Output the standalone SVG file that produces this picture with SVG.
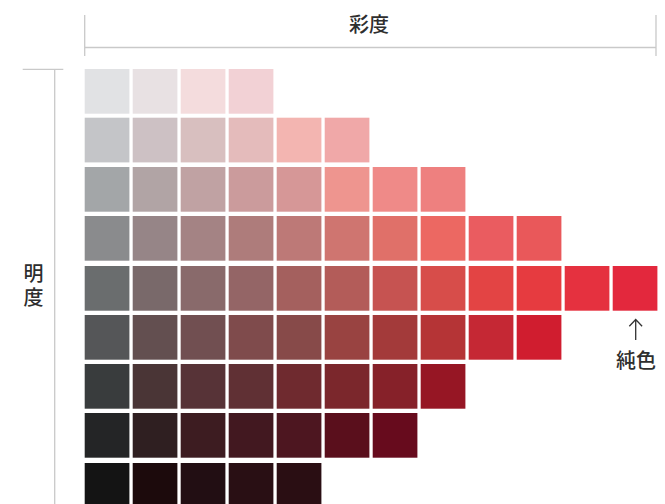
<svg xmlns="http://www.w3.org/2000/svg" width="665" height="504" viewBox="0 0 665 504">
<style>
  .ln{stroke:#c9c9c9;stroke-width:1.3;fill:none}
  .lbl{font-family:"Noto Sans CJK JP","Noto Sans CJK SC",sans-serif;font-size:20px;font-weight:500;fill:#2e2e2e;text-anchor:middle}
  .vt{writing-mode:vertical-rl;text-anchor:start;letter-spacing:3.5px}
  rect{width:44.7px;height:44.7px}
  .ar{stroke:#333333;stroke-width:1.3;fill:none}
</style>
<rect width="665" height="504" x="0" y="0" fill="#ffffff" style="width:665px;height:504px"/>
<g id="axes">
  <path class="ln" d="M84.7,15V56M84.7,47.5H656M656,15V56"/>
  <path class="ln" d="M22.7,69.3H63.3M54.7,69.3V504"/>
</g>
<g id="label-saido"><text class="lbl" x="369" y="31.5">彩度</text></g>
<g id="label-meido">
  <text class="lbl vt" x="33.5" y="263.5">明度</text>
</g>
<g id="row1">
  <rect x="84.7" y="69" fill="#e1e2e4"/>
  <rect x="132.7" y="69" fill="#e8e1e3"/>
  <rect x="180.7" y="69" fill="#f4dcdd"/>
  <rect x="228.7" y="69" fill="#f2d1d5"/>
</g>
<g id="row2">
  <rect x="84.7" y="117.7" fill="#c4c5c8"/>
  <rect x="132.7" y="117.7" fill="#cdc1c4"/>
  <rect x="180.7" y="117.7" fill="#d8bfbf"/>
  <rect x="228.7" y="117.7" fill="#e4bbbb"/>
  <rect x="276.7" y="117.7" fill="#f3b5b1"/>
  <rect x="324.7" y="117.7" fill="#f0a8a8"/>
</g>
<g id="row3">
  <rect x="84.7" y="167" fill="#a3a6a8"/>
  <rect x="132.7" y="167" fill="#b1a4a5"/>
  <rect x="180.7" y="167" fill="#c0a2a3"/>
  <rect x="228.7" y="167" fill="#cb9b9c"/>
  <rect x="276.7" y="167" fill="#d69797"/>
  <rect x="324.7" y="167" fill="#ee958f"/>
  <rect x="372.7" y="167" fill="#ef8a88"/>
  <rect x="420.7" y="167" fill="#ee807f"/>
</g>
<g id="row4">
  <rect x="84.7" y="216" fill="#8a8b8d"/>
  <rect x="132.7" y="216" fill="#968587"/>
  <rect x="180.7" y="216" fill="#a48384"/>
  <rect x="228.7" y="216" fill="#ae7c7b"/>
  <rect x="276.7" y="216" fill="#bd7977"/>
  <rect x="324.7" y="216" fill="#cf7570"/>
  <rect x="372.7" y="216" fill="#e07069"/>
  <rect x="420.7" y="216" fill="#ec6862"/>
  <rect x="468.7" y="216" fill="#ea5c60"/>
  <rect x="516.7" y="216" fill="#e9585a"/>
</g>
<g id="row5">
  <rect x="84.7" y="266" fill="#6a6d6e"/>
  <rect x="132.7" y="266" fill="#79696a"/>
  <rect x="180.7" y="266" fill="#896a6b"/>
  <rect x="228.7" y="266" fill="#946566"/>
  <rect x="276.7" y="266" fill="#a4605e"/>
  <rect x="324.7" y="266" fill="#b35c59"/>
  <rect x="372.7" y="266" fill="#c65351"/>
  <rect x="420.7" y="266" fill="#d74d4a"/>
  <rect x="468.7" y="266" fill="#e34444"/>
  <rect x="516.7" y="266" fill="#e63b40"/>
  <rect x="564.7" y="266" fill="#e5313f"/>
  <rect x="612.7" y="266" fill="#e3283d"/>
</g>
<g id="row6">
  <rect x="84.7" y="315" fill="#555658"/>
  <rect x="132.7" y="315" fill="#634f50"/>
  <rect x="180.7" y="315" fill="#714f51"/>
  <rect x="228.7" y="315" fill="#7f4b4c"/>
  <rect x="276.7" y="315" fill="#874a49"/>
  <rect x="324.7" y="315" fill="#994341"/>
  <rect x="372.7" y="315" fill="#a33a3a"/>
  <rect x="420.7" y="315" fill="#b53436"/>
  <rect x="468.7" y="315" fill="#c52834"/>
  <rect x="516.7" y="315" fill="#d01d2f"/>
</g>
<g id="row7">
  <rect x="84.7" y="364" fill="#393c3d"/>
  <rect x="132.7" y="364" fill="#4a3536"/>
  <rect x="180.7" y="364" fill="#573337"/>
  <rect x="228.7" y="364" fill="#603034"/>
  <rect x="276.7" y="364" fill="#6f2a2f"/>
  <rect x="324.7" y="364" fill="#7b272c"/>
  <rect x="372.7" y="364" fill="#862129"/>
  <rect x="420.7" y="364" fill="#961624"/>
</g>
<g id="row8">
  <rect x="84.7" y="413" fill="#242526"/>
  <rect x="132.7" y="413" fill="#2f1f21"/>
  <rect x="180.7" y="413" fill="#3d1c21"/>
  <rect x="228.7" y="413" fill="#421820"/>
  <rect x="276.7" y="413" fill="#4d1620"/>
  <rect x="324.7" y="413" fill="#5a0f1c"/>
  <rect x="372.7" y="413" fill="#670b1d"/>
</g>
<g id="row9">
  <rect x="84.7" y="463" fill="#141414"/>
  <rect x="132.7" y="463" fill="#1c0a0c"/>
  <rect x="180.7" y="463" fill="#220e13"/>
  <rect x="228.7" y="463" fill="#290f14"/>
  <rect x="276.7" y="463" fill="#2a0e13"/>
</g>
<g id="connectors">
  <path class="ar" d="M635.7,319.5V340M629.3,326.2L635.7,319.5L642.1,326.2"/>
</g>
<g id="label-junshoku"><text class="lbl" x="636" y="368">純色</text></g>
</svg>
